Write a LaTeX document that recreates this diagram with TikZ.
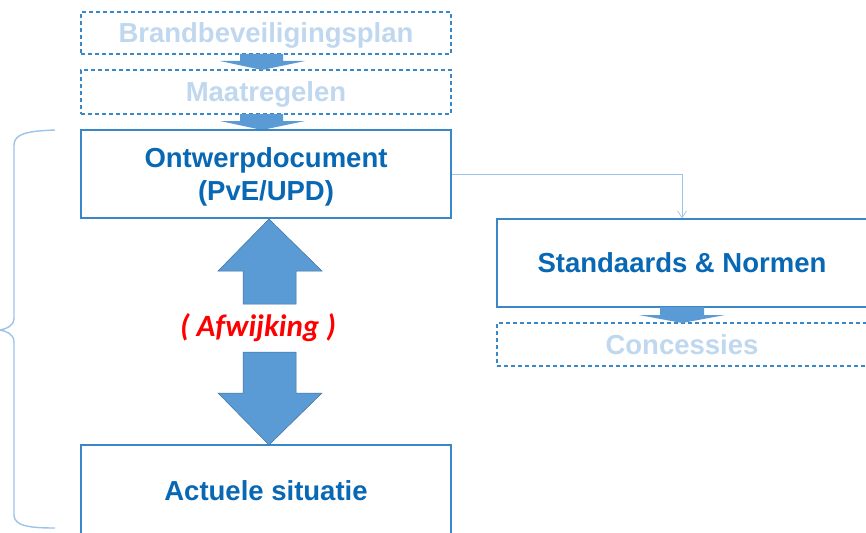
\documentclass[tikz,border=0pt]{standalone}
\usepackage{fontspec}
\setmainfont{Liberation Sans}
\newfontfamily\carl{Carlito}
\usetikzlibrary{arrows.meta,calc}
\definecolor{boxblue}{HTML}{3A87C8}
\definecolor{txtblue}{HTML}{0868B4}
\definecolor{fadeblue}{HTML}{BFD8EF}
\definecolor{arrfill}{HTML}{5B9BD5}
\definecolor{arrdraw}{HTML}{41719C}
\definecolor{linkblue}{HTML}{9DC3E6}
\tikzset{
  solidbox/.style={draw=boxblue,line width=1.2pt,fill=white,minimum width=370pt,text=txtblue,font=\fontsize{27.5}{33}\selectfont\bfseries,align=center,inner sep=0pt,text depth=0pt},
  dashbox/.style={draw=boxblue,dashed,dash pattern=on 4pt off 3pt,line width=1.1pt,fill=white,minimum width=370pt,text=fadeblue,font=\fontsize{27.5}{30}\selectfont\bfseries,inner sep=0pt,text depth=0pt},
  blockarrow/.style={fill=arrfill,draw=arrdraw,line width=0.5pt},
  smallarrow/.style={fill=arrfill,draw=none},
  link/.style={draw=linkblue,line width=0.9pt,-{Straight Barb[length=7pt,width=9pt,line width=0.7pt]}},
  brace/.style={draw=linkblue,line width=1.4pt}
}
\begin{document}
\begin{tikzpicture}[x=1pt,y=-1pt]
\useasboundingbox (0,0) rectangle (866,532);
\clip (0,0) rectangle (866,532);
% boxes
\node[dashbox,minimum height=42pt] (brand) at (266,33) {Brandbeveiligingsplan};
\node[dashbox,minimum height=44pt] (maat) at (266,92) {Maatregelen};
\node[solidbox,minimum height=88pt] (ontw) at (266,174) {Ontwerpdocument\\(PvE/UPD)};
\node[solidbox,minimum height=92pt] (actu) at (266,491) {Actuele situatie};
\node[solidbox,minimum height=88pt] (stan) at (682,263) {Standaards \& Normen};
\node[dashbox,minimum height=43pt] (conc) at (682,344.5) {Concessies};
% small arrows
\fill[smallarrow] (240,54) -- (283,54) -- (283,61) -- (305,61) -- (262,70) -- (220,61) -- (240,61) -- cycle;
\fill[smallarrow] (240,114) -- (283,114) -- (283,121) -- (305,121) -- (262,130) -- (220,121) -- (240,121) -- cycle;
\fill[smallarrow] (660,307) -- (704,307) -- (704,315) -- (725,315) -- (682,323) -- (639,315) -- (660,315) -- cycle;
\draw[boxblue,line width=1.2pt] (ontw.north west) -- (ontw.north east);
% big double arrow
\draw[blockarrow] (269,219) -- (322,271) -- (296,271) -- (296,304) -- (243,304) -- (243,271) -- (218,271) -- cycle;
\draw[blockarrow] (269,445) -- (322,393) -- (296,393) -- (296,352) -- (243,352) -- (243,393) -- (218,393) -- cycle;
\node[text=red,font=\carl\fontsize{31}{33}\selectfont\bfseries\itshape] (afw) at (258,328) {( Afwijking )};
% connector
\draw[link] ($(ontw.north east)!0.51!(ontw.south east)$) -| (stan.north);
% brace
\draw[brace] (55,130) .. controls (30,131) and (14,133) .. (14,145) -- (14,318) .. controls (14,326) and (6,329) .. (0,330) .. controls (6,331) and (14,334) .. (14,342) -- (14,515) .. controls (14,526) and (30,528) .. (55,528);
\end{tikzpicture}
\end{document}
